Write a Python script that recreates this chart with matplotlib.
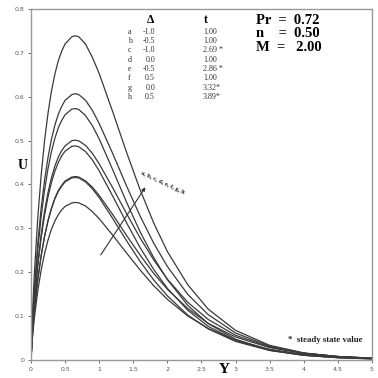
import numpy as np
import matplotlib.pyplot as plt

# Y positions
y_pts = [0, 0.025, 0.05, 0.1, 0.15, 0.2, 0.25, 0.3, 0.35, 0.4, 0.45, 0.5, 0.6, 0.65, 0.7, 0.8, 0.9, 1.0,
         1.2, 1.4, 1.6, 1.8, 2.0, 2.3, 2.6, 3.0, 3.5, 4.0, 4.5, 5.0]

# velocity profiles U, curves a..h (a lowest, h highest)
u_a = [0, 0.057, 0.0965, 0.158, 0.2055, 0.243, 0.2735, 0.298, 0.3165, 0.331, 0.342, 0.350, 0.358, 0.359,
       0.358, 0.351, 0.338, 0.322, 0.284, 0.244, 0.205, 0.169, 0.138, 0.100, 0.0715, 0.0446, 0.0241, 0.0127, 0.0066, 0.0034]
u_b = [0, 0.066, 0.112, 0.183, 0.238, 0.282, 0.317, 0.345, 0.367, 0.384, 0.396, 0.406, 0.415, 0.416,
       0.415, 0.406, 0.390, 0.370, 0.322, 0.272, 0.2245, 0.182, 0.146, 0.102, 0.0705, 0.042, 0.0213, 0.0106, 0.0052, 0.0025]
u_c = [0, 0.0665, 0.112, 0.184, 0.239, 0.283, 0.318, 0.346, 0.3685, 0.386, 0.398, 0.408, 0.417, 0.418,
       0.417, 0.408, 0.394, 0.375, 0.331, 0.284, 0.239, 0.197, 0.161, 0.117, 0.0832, 0.052, 0.028, 0.0148, 0.0077, 0.0040]
u_d = [0, 0.0776, 0.131, 0.215, 0.279, 0.331, 0.372, 0.405, 0.430, 0.450, 0.465, 0.476, 0.487, 0.488,
       0.486, 0.475, 0.456, 0.431, 0.373, 0.313, 0.256, 0.206, 0.163, 0.113, 0.0763, 0.0444, 0.0219, 0.0105, 0.0050, 0.0023]
u_e = [0, 0.0797, 0.135, 0.220, 0.287, 0.340, 0.382, 0.415, 0.442, 0.462, 0.477, 0.488, 0.500, 0.501,
       0.4995, 0.489, 0.471, 0.447, 0.392, 0.334, 0.278, 0.228, 0.184, 0.131, 0.092, 0.056, 0.0294, 0.0151, 0.0076, 0.0038]
u_f = [0, 0.0911, 0.154, 0.252, 0.328, 0.388, 0.4365, 0.475, 0.505, 0.529, 0.546, 0.559, 0.572, 0.573,
       0.571, 0.557, 0.534, 0.504, 0.433, 0.360, 0.292, 0.233, 0.183, 0.124, 0.0826, 0.0469, 0.0224, 0.0104, 0.0048, 0.0022]
u_g = [0, 0.0965, 0.163, 0.267, 0.3475, 0.411, 0.462, 0.503, 0.535, 0.560, 0.578, 0.592, 0.605, 0.607,
       0.605, 0.592, 0.569, 0.539, 0.470, 0.397, 0.328, 0.266, 0.213, 0.149, 0.103, 0.0612, 0.0311, 0.0154, 0.0075, 0.0036]
u_h = [0, 0.1175, 0.199, 0.325, 0.423, 0.501, 0.563, 0.613, 0.6515, 0.682, 0.704, 0.7205, 0.737, 0.739,
       0.737, 0.720, 0.690, 0.653, 0.565, 0.474, 0.388, 0.312, 0.247, 0.171, 0.1155, 0.0672, 0.0331, 0.0159, 0.0075, 0.0035]

curve_labels = ['a', 'b', 'c', 'd', 'e', 'f', 'g', 'h']
delta_vals = ['-1.0', '-0.5', '-1.0', '0.0', '-0.5', '0.5', '0.0', '0.5']
t_vals = ['1.00', '1.00', '2.69 *', '1.00', '2.86 *', '1.00', '3.32*', '3.89*']

x_ticks = [0, 0.5, 1, 1.5, 2, 2.5, 3, 3.5, 4, 4.5, 5]
x_ticklabels = ['0', '0.5', '1', '1.5', '2', '2.5', '3', '3.5', '4', '4.5', '5']
y_ticks = [0, 0.1, 0.2, 0.3, 0.4, 0.5, 0.6, 0.7, 0.8]
y_ticklabels = ['0', '0.1', '0.2', '0.3', '0.4', '0.5', '0.6', '0.7', '0.8']

serif = ['Liberation Serif', 'DejaVu Serif']

fig = plt.figure(figsize=(3.78, 3.78), dpi=100)
ax = fig.add_axes([0.082, 0.048, 0.902, 0.928])

for u in [u_a, u_b, u_c, u_d, u_e, u_f, u_g, u_h]:
    ax.plot(y_pts, u, color='#3a3a3a', lw=0.9)

ax.set_xlim(0, 5)
ax.set_ylim(0, 0.8)
ax.set_xticks(x_ticks)
ax.set_xticklabels(x_ticklabels)
ax.set_yticks(y_ticks)
ax.set_yticklabels(y_ticklabels)
ax.tick_params(labelsize=4.5, colors='#555555', length=2, width=0.6, pad=3)
for s in ax.spines.values():
    s.set_color('#999999')
    s.set_linewidth(1.0)

# axis titles
ax.text(-0.023, 0.444, 'U', transform=ax.get_yaxis_transform(), family=serif,
        fontweight='bold', fontsize=10, ha='center', va='center')
ax.text(2.83, -0.022, 'Y', family=serif, fontweight='bold', fontsize=11,
        ha='center', va='center', clip_on=False)

# parameter table
ax.text(1.76, 0.775, '\u0394', family=serif, fontweight='bold', fontsize=8.5,
        ha='center', va='center')
ax.text(2.57, 0.775, 't', family=serif, fontweight='bold', fontsize=8.5,
        ha='center', va='center')
for i in range(len(curve_labels)):
    yy = 0.748 - i * 0.0212
    ax.text(1.42, yy, curve_labels[i], family=serif, fontsize=5.8, ha='left', va='center', color='#333333')
    ax.text(1.82, yy, delta_vals[i], family=serif, fontsize=5.8, ha='right', va='center', color='#333333')
    ax.text(2.52, yy, t_vals[i], family=serif, fontsize=5.8, ha='left', va='center', color='#333333')

ax.text(3.30, 0.775, 'Pr  =  0.72', family=serif, fontweight='bold', fontsize=10.5, va='center')
ax.text(3.30, 0.744, 'n    =  0.50', family=serif, fontweight='bold', fontsize=10.5, va='center')
ax.text(3.30, 0.712, 'M  =   2.00', family=serif, fontweight='bold', fontsize=10.5, va='center')

ax.text(3.77, 0.046, '*  steady state value', family=serif, fontweight='bold',
        fontsize=6.3, va='center', color='#222222')

# arrow showing order of curves
ax.annotate('', xy=(1.70, 0.399), xytext=(1.0, 0.234),
            arrowprops=dict(arrowstyle='-|>', color='#333333', lw=0.8,
                            mutation_scale=5))
ax.text(1.93, 0.403, 'a, b, c, d, e, f, g, h', family=serif, fontweight='bold',
        fontsize=4.6, rotation=-25, ha='center', va='center', color='#222222')

fig.savefig('out.png', dpi=100)
